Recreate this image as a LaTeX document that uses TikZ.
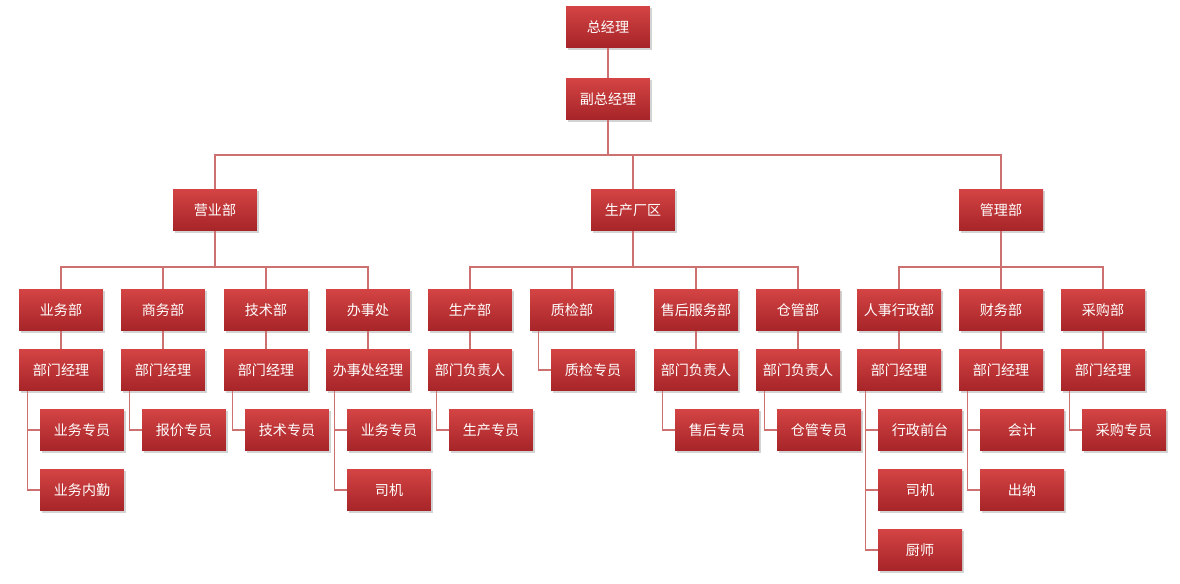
\documentclass[tikz,border=0pt]{standalone}
\usepackage{fontspec}
\newfontfamily\cjk{Noto Sans CJK SC}
\usetikzlibrary{shadows}
\definecolor{boxtop}{RGB}{212,68,68}
\definecolor{boxbot}{RGB}{166,36,40}
\definecolor{linkred}{RGB}{204,112,112}
\begin{document}
\begin{tikzpicture}[x=0.02cm, y=-0.02cm, font=\cjk\fontsize{8}{9.6}\selectfont,
  unit/.style={rectangle, minimum width=1.68cm, minimum height=0.84cm, inner sep=0pt,
    top color=boxtop, bottom color=boxbot, text=white,
    drop shadow={shadow xshift=1.2pt, shadow yshift=-1.2pt, opacity=0.35}},
  link/.style={draw=linkred, line width=0.6pt}]
\useasboundingbox (0,0) rectangle (1180,584);
%Các ô
\foreach \n/\x/\y/\t in {zjl/608/27/总经理, fzjl/608/99/副总经理,
  yyb/215/210/营业部, sccq/633/210/生产厂区, glb/1001/210/管理部,
  ywb/61/310/业务部, swb/163/310/商务部, jsb/266/310/技术部, bsc/368/310/办事处,
  scb/470/310/生产部, zjb/572/310/质检部, shb/696/310/售后服务部, cgb/798/310/仓管部,
  rsb/899/310/人事行政部, cwb/1001/310/财务部, cgou/1103/310/采购部,
  ma/61/370/部门经理, mb/163/370/部门经理, mc/266/370/部门经理, md/368/370/办事处经理,
  me/470/370/部门负责人, zjzy/593/370/质检专员, mf/696/370/部门负责人, mg/798/370/部门负责人,
  mh/899/370/部门经理, mi/1001/370/部门经理, mj/1103/370/部门经理,
  sa/82/430/业务专员, sb/184/430/报价专员, sc/287/430/技术专员, sd/389/430/业务专员,
  se/491/430/生产专员, sf/717/430/售后专员, sg/819/430/仓管专员,
  sh/920/430/行政前台, si/1022/430/会计, sj/1124/430/采购专员,
  ta/82/490/业务内勤, td/389/490/司机, th/920/490/司机, ti/1022/490/出纳,
  uh/920/550/厨师}
\node[unit] (\n) at (\x,\y) {\t};
%Đường nối
\coordinate (busa) at (608,155);
\coordinate (busb) at (0,267);
\draw[link] (zjl) -- (fzjl);
\draw[link] (fzjl) -- (busa);
\draw[link] (yyb.north) -- (yyb.north |- busa) -- (glb.north |- busa) -- (glb.north);
\draw[link] (sccq.north) -- (sccq.north |- busa);
\foreach \p/\a/\b in {yyb/ywb/bsc, sccq/scb/cgb, glb/rsb/cgou}
\draw[link] (\p) -- (\p |- busb) (\a.north) -- (\a.north |- busb) -- (\b.north |- busb) -- (\b.north);
\foreach \c in {swb, jsb, zjb, shb, cwb}
\draw[link] (\c.north) -- (\c.north |- busb);
\foreach \a/\b in {ywb/ma, swb/mb, jsb/mc, bsc/md, scb/me, shb/mf, cgb/mg, rsb/mh, cwb/mi, cgou/mj}
\draw[link] (\a) -- (\b);
\foreach \p/\c in {zjb/zjzy, ma/sa, ma/ta, mb/sb, mc/sc, md/sd, md/td, me/se,
  mf/sf, mg/sg, mh/sh, mh/th, mh/uh, mi/si, mi/ti, mj/sj}
\draw[link] ([xshift=0.18cm]\p.south west) |- (\c.west);
\end{tikzpicture}
\end{document}
